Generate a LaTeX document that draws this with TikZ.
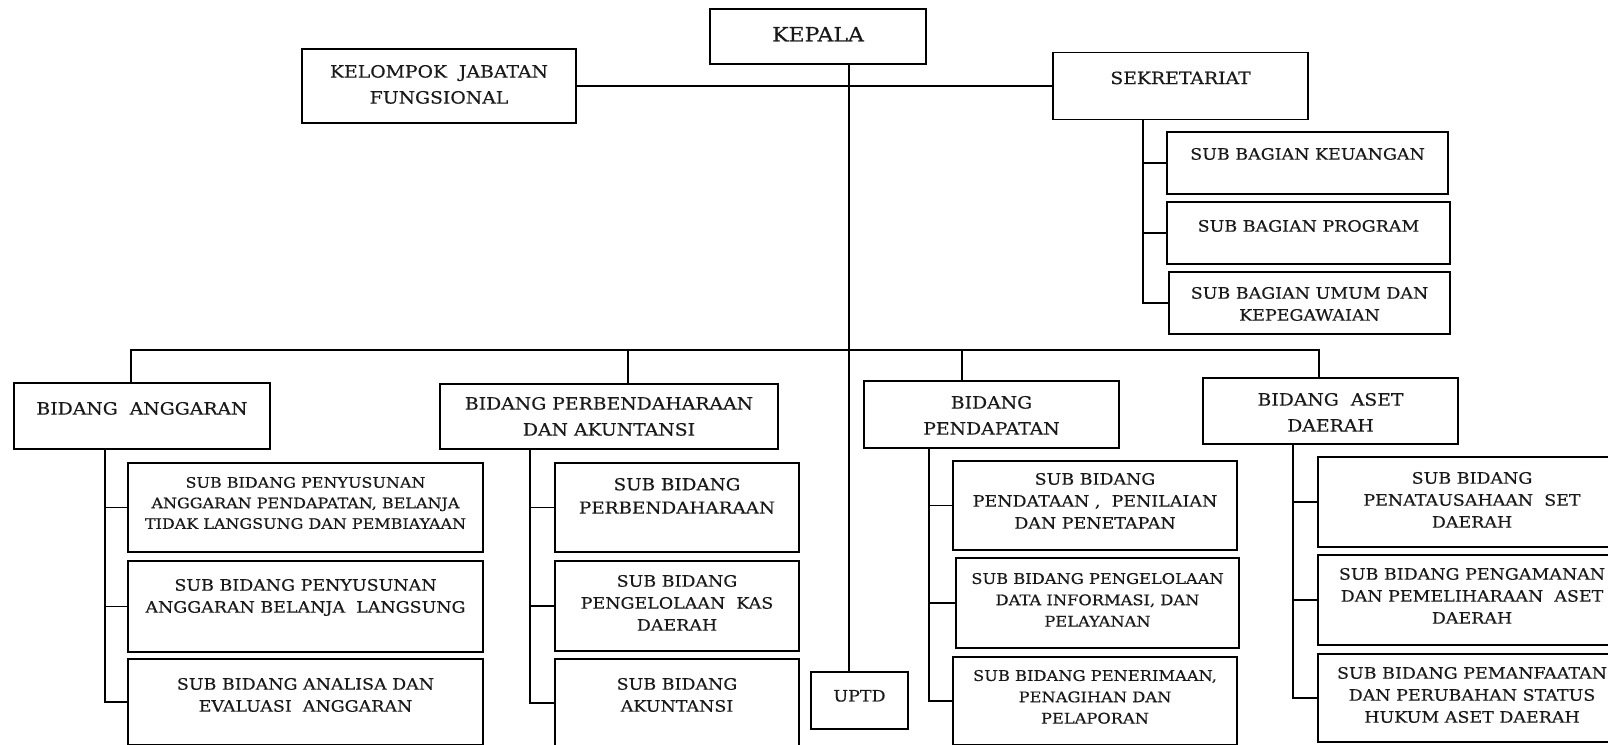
\documentclass[tikz,border=0pt]{standalone}
\usepackage{fontspec}
\newfontfamily\orgfont[FakeStretch=1.11, FakeBold=0.4]{DejaVu Serif}

\begin{document}
\begin{tikzpicture}[x=0.75pt,y=-0.75pt,
    unit/.style={draw, line width=1.1pt, inner sep=0pt, outer sep=0pt},
    txt/.style={anchor=north, yshift=-#1, inner sep=0pt, outer sep=0pt, align=center,
      text=black!90, font=\orgfont\fontsize{11.8}{16.5}\selectfont},
    txt/.default=11pt,
    big/.style={font=\orgfont\fontsize{12.7}{19.5}\selectfont},
    conn/.style={line width=1.1pt}]
  \useasboundingbox (0,0) rectangle (1608,744);
  \clip (0,0) rectangle (1608,744);

  % top level
  \node[unit, minimum width=162pt, minimum height=41.25pt,
    label={[txt=13.5pt, font=\orgfont\fontsize{14.9}{18}\selectfont]north:KEPALA}] (kepala) at (818,36.5) {};
  \node[unit, minimum width=205.5pt, minimum height=55.5pt,
    label={[txt=12pt, big]north:{KELOMPOK~ JABATAN\\FUNGSIONAL}}] (kelompok) at (439,86) {};
  \node[unit, minimum width=191.25pt, minimum height=50.25pt,
    label={[txt=14.25pt, big]north:SEKRETARIAT}] (sekretariat) at (1180.5,86) {};

  % sekretariat
  \node[unit, minimum width=210.75pt, minimum height=46.5pt,
    label={[txt=12pt]north:SUB BAGIAN KEUANGAN}] (keuangan) at (1307.5,163) {};
  \node[unit, minimum width=212.25pt, minimum height=46.5pt,
    label={[txt=13.5pt]north:SUB BAGIAN PROGRAM}] (program) at (1308.5,233) {};
  \node[unit, minimum width=210.75pt, minimum height=46.5pt,
    label={[txt=11.25pt]north:{SUB BAGIAN UMUM DAN\\KEPEGAWAIAN}}] (umum) at (1309.5,303) {};

  % bidang
  \node[unit, minimum width=192pt, minimum height=49.5pt,
    label={[txt=14.25pt, big]north:BIDANG~ ANGGARAN}] (anggaran) at (142,416) {};
  \node[unit, minimum width=253.5pt, minimum height=48.75pt,
    label={[txt=9.75pt, big]north:{BIDANG PERBENDAHARAAN\\DAN AKUNTANSI}}] (perbend) at (609,416.5) {};
  \node[unit, minimum width=191.25pt, minimum height=50.25pt,
    label={[txt=11.25pt, big]north:{BIDANG\\PENDAPATAN}}] (pendapatan) at (991.5,414.5) {};
  \node[unit, minimum width=191.25pt, minimum height=49.5pt,
    label={[txt=11.25pt, big]north:{BIDANG~ ASET\\DAERAH}}] (aset) at (1330.5,411) {};

  % sub bidang anggaran
  \node[unit, minimum width=266.25pt, minimum height=66.75pt,
    label={[txt=10.5pt, font=\orgfont\fontsize{10.8}{15.4}\selectfont]north:{SUB BIDANG PENYUSUNAN\\ANGGARAN PENDAPATAN, BELANJA\\TIDAK LANGSUNG DAN PEMBIAYAAN}}] (a1) at (305.5,507.5) {};
  \node[unit, minimum width=266.25pt, minimum height=68.25pt,
    label={[txt=13.5pt]north:{SUB BIDANG PENYUSUNAN\\ANGGARAN BELANJA~ LANGSUNG}}] (a2) at (305.5,606.5) {};
  \node[unit, minimum width=266.25pt, minimum height=64.5pt,
    label={[txt=14.25pt]north:{SUB BIDANG ANALISA DAN\\EVALUASI~ ANGGARAN}}] (a3) at (305.5,702) {};

  % sub bidang perbendaharaan
  \node[unit, minimum width=183pt, minimum height=66.75pt,
    label={[txt=11.25pt, font=\orgfont\fontsize{12.4}{17.5}\selectfont]north:{SUB BIDANG\\PERBENDAHARAAN}}] (b1) at (677,507.5) {};
  \node[unit, minimum width=183pt, minimum height=67.5pt,
    label={[txt=10.5pt]north:{SUB BIDANG\\PENGELOLAAN~ KAS\\DAERAH}}] (b2) at (677,606) {};
  \node[unit, minimum width=183pt, minimum height=66pt,
    label={[txt=14.25pt]north:{SUB BIDANG\\AKUNTANSI}}] (b3) at (677,703) {};

  \node[unit, minimum width=72.75pt, minimum height=42.75pt,
    label={[txt=13.5pt]north:UPTD}] (uptd) at (859.5,700.5) {};

  % sub bidang pendapatan
  \node[unit, minimum width=213pt, minimum height=66.75pt,
    label={[txt=9pt]north:{SUB BIDANG\\PENDATAAN ,~ PENILAIAN\\DAN PENETAPAN}}] (c1) at (1095,505.5) {};
  \node[unit, minimum width=212.25pt, minimum height=67.5pt,
    label={[txt=11.25pt, font=\orgfont\fontsize{11}{16}\selectfont]north:{SUB BIDANG PENGELOLAAN\\DATA INFORMASI, DAN\\PELAYANAN}}] (c2) at (1097.5,603) {};
  \node[unit, minimum width=213pt, minimum height=66pt,
    label={[txt=9.75pt, font=\orgfont\fontsize{11}{16}\selectfont]north:{SUB BIDANG PENERIMAAN,\\PENAGIHAN DAN\\PELAPORAN}}] (c3) at (1095,701) {};

  % sub bidang aset
  \node[unit, minimum width=231pt, minimum height=67.5pt,
    label={[txt=11.25pt]north:{SUB BIDANG\\PENATAUSAHAAN~ SET\\DAERAH}}] (d1) at (1472,502) {};
  \node[unit, minimum width=231pt, minimum height=67.5pt,
    label={[txt=9.75pt]north:{SUB BIDANG PENGAMANAN\\DAN PEMELIHARAAN~ ASET\\DAERAH}}] (d2) at (1472,600) {};
  \node[unit, minimum width=231pt, minimum height=66pt,
    label={[txt=9.75pt]north:{SUB BIDANG PEMANFAATAN\\DAN PERUBAHAN STATUS\\HUKUM ASET DAERAH}}] (d3) at (1472,698) {};

  % trunks and bus
  \coordinate (maintrunk) at (849,0);
  \coordinate (sektrunk) at (1143,0);
  \coordinate (angtrunk) at (105,0);
  \coordinate (pbtrunk) at (530,0);
  \coordinate (pdtrunk) at (929,0);
  \coordinate (asettrunk) at (1293,0);
  \coordinate (dropA) at (131,350);
  \coordinate (dropB) at (628,350);
  \coordinate (dropC) at (962,350);
  \coordinate (dropD) at (1319,350);

  \draw[conn] (maintrunk |- kepala.south) -- (maintrunk |- uptd.north);
  \draw[conn] (kelompok.east) -- (sekretariat.west);
  \draw[conn] (sektrunk |- sekretariat.south) |- (umum.west);
  \draw[conn] (dropA |- anggaran.north) -- (dropA) -- (dropD) -- (dropD |- aset.north);
  \draw[conn] (dropB) -- (dropB |- perbend.north);
  \draw[conn] (dropC) -- (dropC |- pendapatan.north);
  \draw[conn] (angtrunk |- anggaran.south) |- (a3.west);
  \draw[conn] (pbtrunk |- perbend.south) |- (b3.west);
  \draw[conn] (pdtrunk |- pendapatan.south) |- (c3.west);
  \draw[conn] (asettrunk |- aset.south) |- (d3.west);
  \foreach \t/\b in {sektrunk/keuangan, sektrunk/program, angtrunk/a1, angtrunk/a2,
      pbtrunk/b1, pbtrunk/b2, pdtrunk/c1, pdtrunk/c2, asettrunk/d1, asettrunk/d2}
    \draw[conn] (\t |- \b.west) -- (\b.west);
\end{tikzpicture}
\end{document}
